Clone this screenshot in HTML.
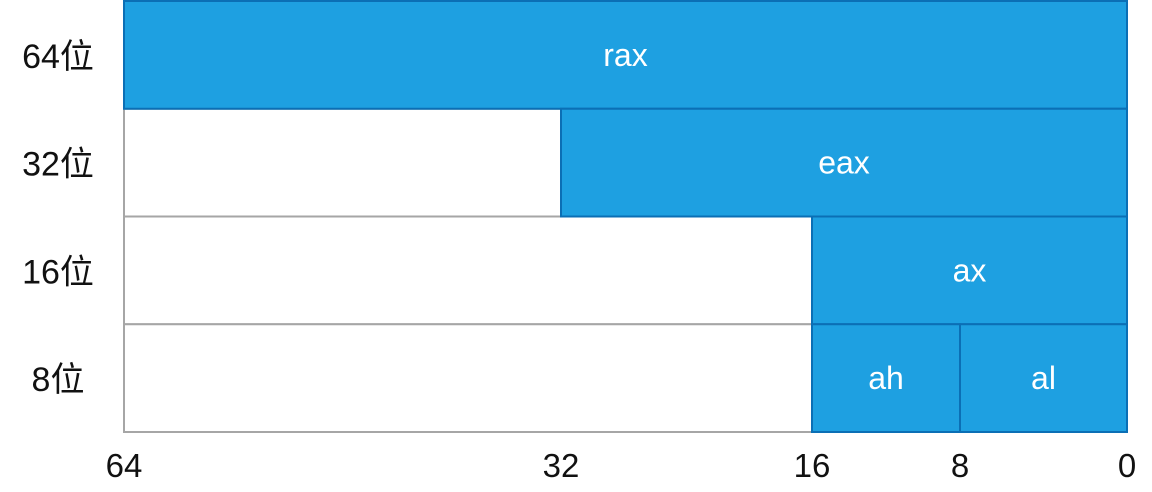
<!DOCTYPE html>
<html><head><meta charset="utf-8"><style>
body{margin:0;background:#fff;width:1152px;height:487px;overflow:hidden}
svg text{font-family:"Liberation Sans","Noto Sans CJK SC",sans-serif}
</style></head><body>
<svg id="c" width="1152" height="487"></svg>
<script>
const tickBits=[64,32,16,8,0];
const tickLabels=["64","32","16","8","0"];
const rowLabels=["64位","32位","16位","8位"];
const regs=[{name:"rax",row:0,hi:64,lo:0},{name:"eax",row:1,hi:32,lo:0},{name:"ax",row:2,hi:16,lo:0},{name:"ah",row:3,hi:16,lo:8},{name:"al",row:3,hi:8,lo:0}];
const xr=[124,561,812,960,1127];
function xs(b){for(let i=0;i<tickBits.length-1;i++){const a=tickBits[i],c=tickBits[i+1];if(b<=a&&b>=c)return xr[i]+(a-b)/(a-c)*(xr[i+1]-xr[i]);}return xr[0];}
const rowTop=1,rh=107.75;
function ys(r){return rowTop+r*rh;}
const svg=document.getElementById('c'),NS="http://www.w3.org/2000/svg";
function mk(t,a){const e=document.createElementNS(NS,t);for(const k in a)e.setAttribute(k,a[k]);svg.appendChild(e);return e;}
for(let r=0;r<rowLabels.length;r++){
 const e=mk('rect',{x:xs(64),y:ys(r),width:xs(0)-xs(64),height:rh,fill:'#fff',stroke:'#a6a6a6','stroke-width':2});
 
 
 const t=mk('text',{x:58,y:ys(r)+rh/2+13,'text-anchor':'middle','font-size':34,fill:'#111'});t.textContent=rowLabels[r];
 
 
}
regs.forEach(g=>{
 const e=mk('rect',{x:xs(g.hi),y:ys(g.row),width:xs(g.lo)-xs(g.hi),height:rh,fill:'#1ea0e1',stroke:'#0b6fb5','stroke-width':2});
 
 
 const t=mk('text',{x:(xs(g.hi)+xs(g.lo))/2,y:ys(g.row)+rh/2+11,'text-anchor':'middle','font-size':32,fill:'#fff'});t.textContent=g.name;
 
 
});
tickBits.forEach((b,i)=>{
 const t=mk('text',{x:xs(b),y:477,'text-anchor':'middle','font-size':33,fill:'#111'});t.textContent=tickLabels[i];
 
 
});
</script>
</body></html>
